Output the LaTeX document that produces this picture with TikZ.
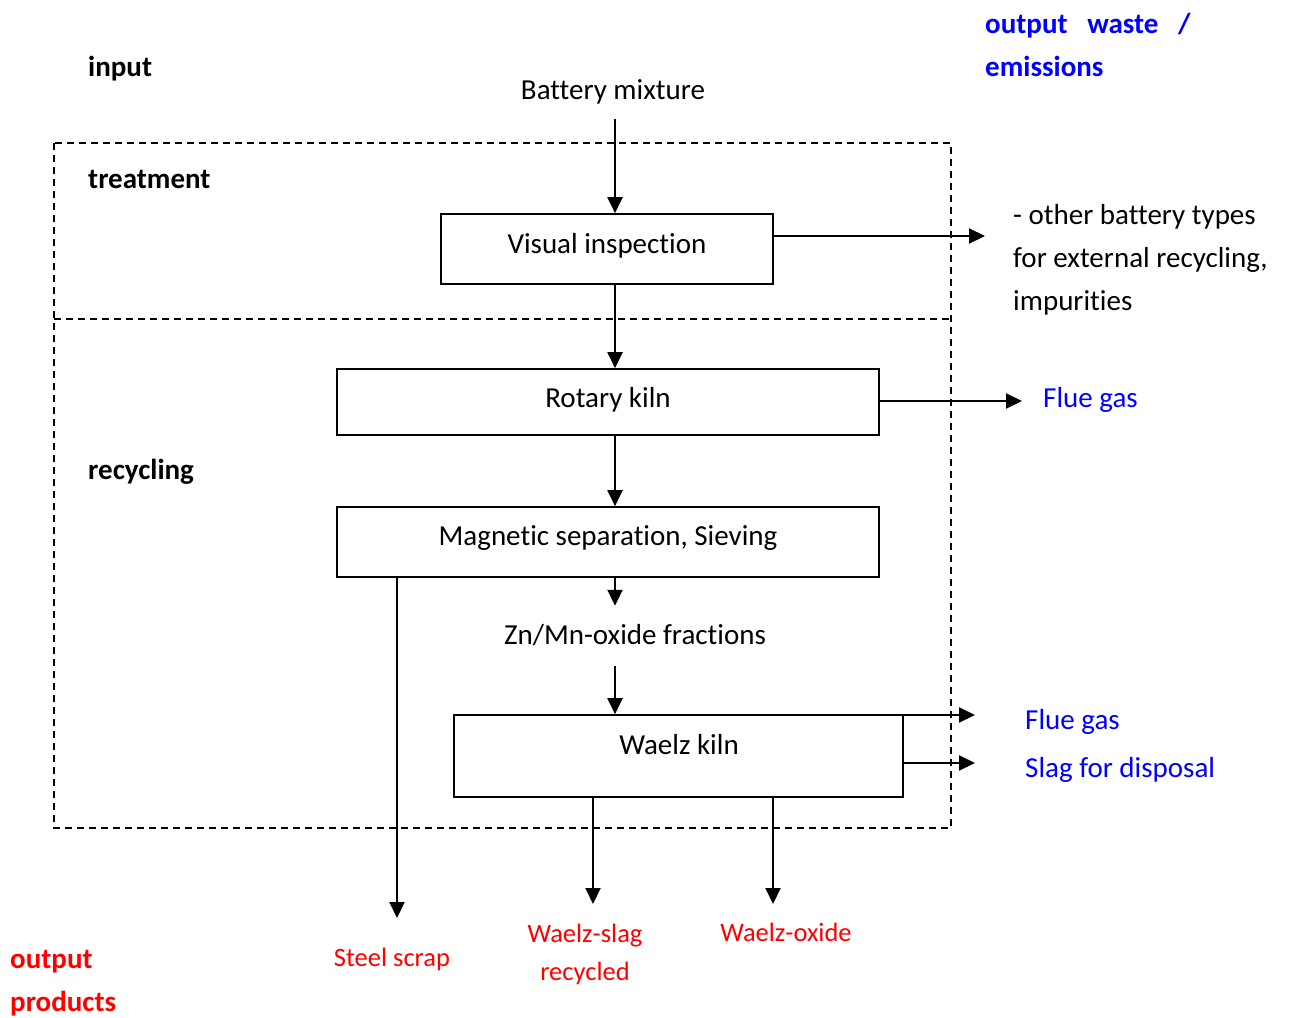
\documentclass[tikz,border=0pt]{standalone}
\usepackage{fontspec}
\setmainfont{Carlito}[RawFeature={-liga}]
\usetikzlibrary{arrows.meta}
\definecolor{wblue}{RGB}{0,0,255}
\definecolor{pred}{RGB}{255,0,0}
\begin{document}
\begin{tikzpicture}[x=1pt,y=-1pt,
  every node/.style={font=\fontsize{29}{35}\selectfont, inner sep=0pt},
  box/.style={draw, line width=1.6pt, rectangle},
  arr/.style={line width=2pt, -{Triangle[length=16pt,width=15pt]}},
  hdr/.style={font=\fontsize{29}{35}\selectfont\bfseries, anchor=base west},
  txt/.style={anchor=base},
  lft/.style={anchor=base west},
  wst/.style={anchor=base west, text=wblue},
  prd/.style={anchor=base, text=pred, font=\fontsize{26.5}{32}\selectfont},
  region/.style={dash pattern=on 7pt off 5pt, line width=1.4pt}]
\path[use as bounding box] (0,0) rectangle (1289,1017);

% region frames
\draw[region] (54,143) rectangle (951,828);
\draw[region] (54,319) -- (951,319);

% headers
\node[hdr] (hin) at (88,76) {input};
\node[hdr] (htr) at (88,188) {treatment};
\node[hdr] (hre) at (88,479) {recycling};
\node[hdr, text=wblue] (hw1) at (985,33) {output\ \ \ waste\ \ \ /};
\node[hdr, text=wblue] (hw2) at (985,76) {emissions};
\node[hdr, text=pred] (hp1) at (10,968) {output};
\node[hdr, text=pred] (hp2) at (10,1011) {products};

% boxes
\node[box, minimum width=332pt, minimum height=70pt] (vis) at (607,249) {};
\node[txt] (vist) at (607,253) {Visual inspection};
\node[box, minimum width=542pt, minimum height=66pt] (rot) at (608,402) {};
\node[txt] (rott) at (608,407) {Rotary kiln};
\node[box, minimum width=542pt, minimum height=70pt] (mag) at (608,542) {};
\node[txt] (magt) at (608,545) {Magnetic separation, Sieving};
\node[box, minimum width=449pt, minimum height=82pt] (wae) at (678.5,756) {};
\node[txt] (waet) at (679,754) {Waelz kiln};

% intermediate texts
\node[txt, inner ysep=15pt] (bat) at (613,99) {Battery mixture};
\node[txt, text height=22pt, text depth=6pt, inner ysep=16pt] (zn) at (635,644) {Zn/Mn-oxide fractions};

% main trunk
\coordinate (trunk) at (615,0);
\draw[arr] (bat.south -| trunk) -- (vis.north -| trunk);
\draw[arr] (vis.south -| trunk) -- (rot.north -| trunk);
\draw[arr] (rot.south -| trunk) -- (mag.north -| trunk);
\draw[arr] (mag.south -| trunk) -- (zn.north -| trunk);
\draw[arr] (zn.south -| trunk) -- (wae.north -| trunk);

% side outputs
\coordinate (o1) at (985,236);
\draw[arr] (vis.east |- o1) -- (o1);
\coordinate (o2) at (1022,401);
\draw[arr] (rot.east |- o2) -- (o2);
\coordinate (o3) at (975,715);
\draw[arr] (wae.east |- o3) -- (o3);
\coordinate (o4) at (975,763);
\draw[arr] (wae.east |- o4) -- (o4);

\node[lft] (ot1) at (1013,224) {- other battery types};
\node[lft] (ot2) at (1013,267) {for external recycling,};
\node[lft] (ot3) at (1013,310) {impurities};
\node[wst] (fg1) at (1043,407) {Flue gas};
\node[wst] (fg2) at (1025,729) {Flue gas};
\node[wst] (slg) at (1025,777) {Slag for disposal};

% product outputs
\coordinate (p1) at (397,918);
\draw[arr] (mag.south -| p1) -- (p1);
\coordinate (p2) at (593,904);
\draw[arr] (wae.south -| p2) -- (p2);
\coordinate (p3) at (773,904);
\draw[arr] (wae.south -| p3) -- (p3);

\node[prd] (stl) at (392,966) {Steel scrap};
\node[prd] (ws1) at (585,942) {Waelz-slag};
\node[prd] (ws2) at (585,980) {recycled};
\node[prd] (wox) at (786,941) {Waelz-oxide};
\end{tikzpicture}
\end{document}
